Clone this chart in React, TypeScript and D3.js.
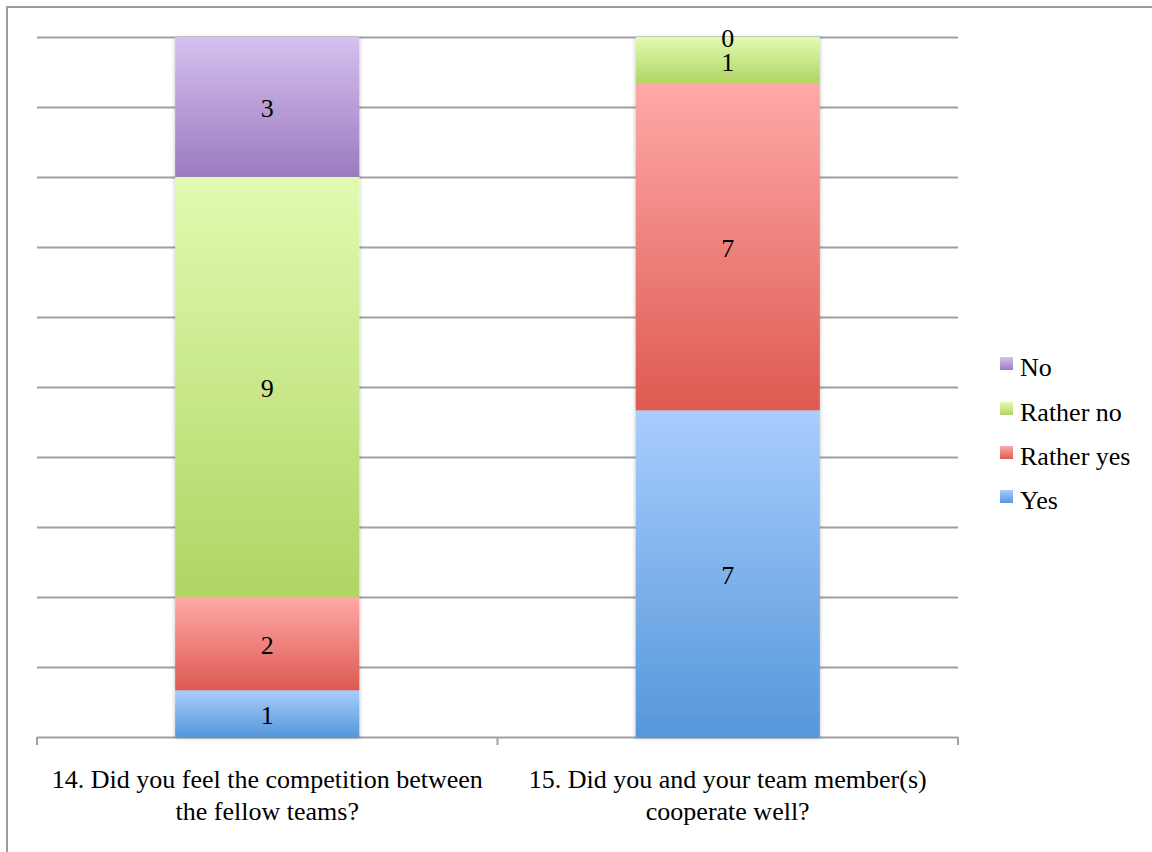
import React from "react";
import * as d3 from "d3";

// Survey questions (each split into its two display lines)
const categories: string[][] = [
  ["14. Did you feel the competition between", "the fellow teams?"],
  ["15. Did you and your team member(s)", "cooperate well?"],
];

// Answer counts per question, stacked bottom to top
const seriesNames = ["Yes", "Rather yes", "Rather no", "No"];
const yesValues = [1, 7];
const ratherYesValues = [2, 7];
const ratherNoValues = [9, 1];
const noValues = [3, 0];

// Gradient stops (top, bottom) for each answer
const gradientTop = ["#a9cdfd", "#ffa9a8", "#e1fbb1", "#d5c1ef"];
const gradientBottom = ["#5597da", "#dd5a50", "#b1d463", "#9b7bbf"];

const W = 1152;
const H = 852;
const plot = { left: 37, right: 958, top: 37, bottom: 737 };
const FONT = "Liberation Serif, Times New Roman, serif";
const FS = 26;

export default function App() {
  const seriesValues = [yesValues, ratherYesValues, ratherNoValues, noValues];
  const rows = categories.map((_, i) => {
    const r: Record<string, number> = { idx: i };
    seriesNames.forEach((s, k) => (r[s] = seriesValues[k][i]));
    return r;
  });
  const stacked = d3
    .stack<Record<string, number>>()
    .keys(seriesNames)
    .offset(d3.stackOffsetExpand)(rows);

  const x = d3
    .scaleBand<number>()
    .domain(categories.map((_, i) => i))
    .range([plot.left, plot.right])
    .paddingInner(0)
    .paddingOuter(0);
  const barW = x.bandwidth() * 0.4;
  const y = d3.scaleLinear().domain([0, 1]).range([plot.bottom, plot.top]);
  const gridTicks = d3.range(0, 1.0001, 0.1);

  const legendY = [376, 421, 465, 509];
  const legendOrder = [3, 2, 1, 0];

  return (
    <svg
      width={W}
      height={H}
      style={{ position: "absolute", left: 0, top: 0, background: "#fff" }}
    >
      <defs>
        {seriesNames.map((s, k) => (
          <linearGradient key={s} id={`grad${k}`} x1="0" y1="0" x2="0" y2="1">
            <stop offset="0%" stopColor={gradientTop[k]} />
            <stop offset="100%" stopColor={gradientBottom[k]} />
          </linearGradient>
        ))}
        <filter id="barShadow" x="-10%" y="-10%" width="120%" height="120%">
          <feDropShadow dx="0" dy="1" stdDeviation="2" floodColor="#000" floodOpacity="0.25" />
        </filter>
      </defs>

      {/* outer frame */}
      <rect x={7} y={7} width={W + 20} height={H + 20} fill="none" stroke="#9c9c9c" strokeWidth={2} />

      {/* horizontal gridlines */}
      {gridTicks.map((t) => (
        <line
          key={t}
          x1={plot.left}
          x2={plot.right}
          y1={Math.round(y(t)) + 0.5}
          y2={Math.round(y(t)) + 0.5}
          stroke="#a0a0a0"
          strokeWidth={2}
        />
      ))}

      {/* category tick marks */}
      {[...categories.map((_, i) => x(i)!), plot.right].map((tx, i) => (
        <line
          key={i}
          x1={tx}
          x2={tx}
          y1={plot.bottom}
          y2={plot.bottom + 8}
          stroke="#a0a0a0"
          strokeWidth={2}
        />
      ))}

      {/* stacked bars */}
      {categories.map((_, i) => {
        const cx = x(i)! + x.bandwidth() / 2;
        return (
          <g key={i} filter="url(#barShadow)">
            {stacked.map((layer, k) => {
              const [y0, y1] = layer[i];
              const top = y(y1);
              const h = y(y0) - y(y1);
              if (h <= 0) return null;
              return (
                <rect
                  key={k}
                  x={cx - barW / 2}
                  y={top}
                  width={barW}
                  height={h}
                  fill={`url(#grad${k})`}
                />
              );
            })}
          </g>
        );
      })}

      {/* value labels */}
      {categories.map((_, i) => {
        const cx = x(i)! + x.bandwidth() / 2;
        return stacked.map((layer, k) => {
          const [y0, y1] = layer[i];
          const mid = (y(y0) + y(y1)) / 2;
          return (
            <text
              key={`${i}-${k}`}
              x={cx}
              y={mid}
              dy="0.4em"
              textAnchor="middle"
              fontFamily={FONT}
              fontSize={FS}
              fill="#000"
            >
              {seriesValues[k][i]}
            </text>
          );
        });
      })}

      {/* category labels */}
      {categories.map((lines, i) => {
        const cx = x(i)! + x.bandwidth() / 2;
        return (
          <text key={i} textAnchor="middle" fontFamily={FONT} fontSize={FS} fill="#000">
            {lines.map((ln, j) => (
              <tspan key={j} x={cx} y={788 + j * 32}>
                {ln}
              </tspan>
            ))}
          </text>
        );
      })}

      {/* legend */}
      {legendOrder.map((k, j) => (
        <g key={k}>
          <rect x={1000} y={legendY[j] - 19} width={13} height={13} fill={`url(#grad${k})`} />
          <text x={1020} y={legendY[j]} fontFamily={FONT} fontSize={FS} fill="#000">
            {seriesNames[k]}
          </text>
        </g>
      ))}
    </svg>
  );
}
